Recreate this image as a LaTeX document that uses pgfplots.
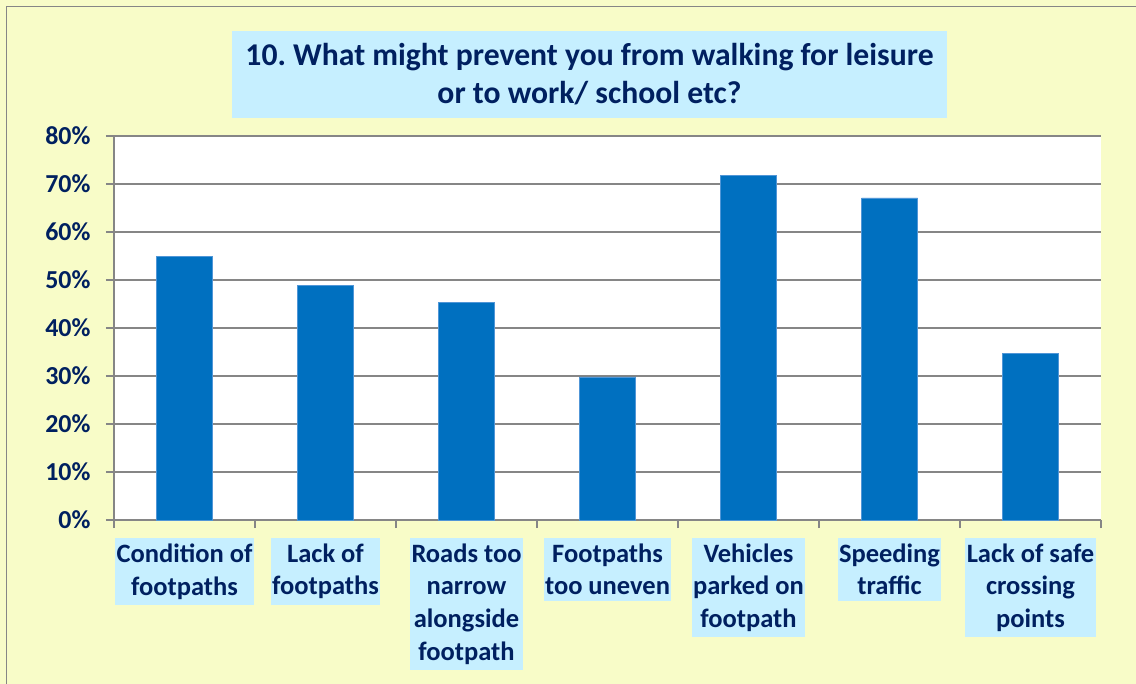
\documentclass[border=0pt]{standalone}
\usepackage{pgfplots}
\pgfplotsset{compat=1.18}
\usepackage{fontspec}
\setmainfont{Carlito}
\frenchspacing
\definecolor{bgyellow}{RGB}{248,252,200}
\definecolor{cyanbox}{RGB}{198,239,255}
\definecolor{navy}{RGB}{0,32,96}
\definecolor{barblue}{RGB}{0,112,192}
\definecolor{baredge}{RGB}{80,150,215}
\definecolor{gridgray}{RGB}{134,134,134}
\begin{document}
\begin{tikzpicture}
\useasboundingbox (-114bp,-164bp) rectangle (1022bp,520bp);
\fill[bgyellow] (-114bp,-164bp) rectangle (1022bp,520bp);
\draw[gridgray, line width=1.5bp] (-107.5bp,-170bp) -- (-107.5bp,513.5bp) -- (1030bp,513.5bp);
\begin{axis}[
  scale only axis,
  width=987bp, height=384bp,
  xmin=-0.5, xmax=6.5,
  ymin=0, ymax=80,
  axis background/.style={fill=white},
  axis x line*=bottom,
  axis y line*=left,
  axis line style={gridgray, line width=1.5bp},
  xtick={0,...,6},
  minor xtick={-0.5,0.5,...,6.5},
  major x tick style={draw=none},
  minor x tick style={gridgray, line width=1.5bp},
  minor tick length=8bp,
  major tick length=8bp,
  tick align=outside,
  ytick={0,10,...,80},
  y tick style={gridgray, line width=1.5bp},
  ymajorgrids,
  grid style={gridgray, line width=1.5bp},
  yticklabels={0\%,10\%,20\%,30\%,40\%,50\%,60\%,70\%,80\%},
  yticklabel style={font=\fontsize{26}{31}\selectfont\bfseries, text=navy, xshift=-12bp},
  xticklabels={Condition of\\footpaths, Lack of\\footpaths, Roads too\\narrow\\alongside\\footpath, Footpaths\\too uneven, Vehicles\\parked on\\footpath, Speeding\\traffic, Lack of safe\\crossing\\points},
  xticklabel style={font=\fontsize{26.6}{32.8}\selectfont\bfseries, text=navy, align=center, fill=cyanbox, inner xsep=1.5bp, inner ysep=5.5bp, anchor=north, yshift=-10bp},
  title={10. What might prevent you from walking for leisure\\or to work/ school etc?},
  title style={at={(axis description cs:0.4818,1)}, anchor=center, yshift=56bp, fill=cyanbox, minimum width=715bp, minimum height=87bp, align=center, text=navy, font=\fontsize{31.8}{38}\selectfont\bfseries},
  clip=false,
]
\addplot[ybar, bar width=56bp, fill=barblue, draw=baredge, line width=0.75bp] coordinates {
  (0,55.0) (1,48.8) (2,45.4) (3,29.8) (4,71.7) (5,67.1) (6,34.7)
};
\end{axis}
\end{tikzpicture}
\end{document}
